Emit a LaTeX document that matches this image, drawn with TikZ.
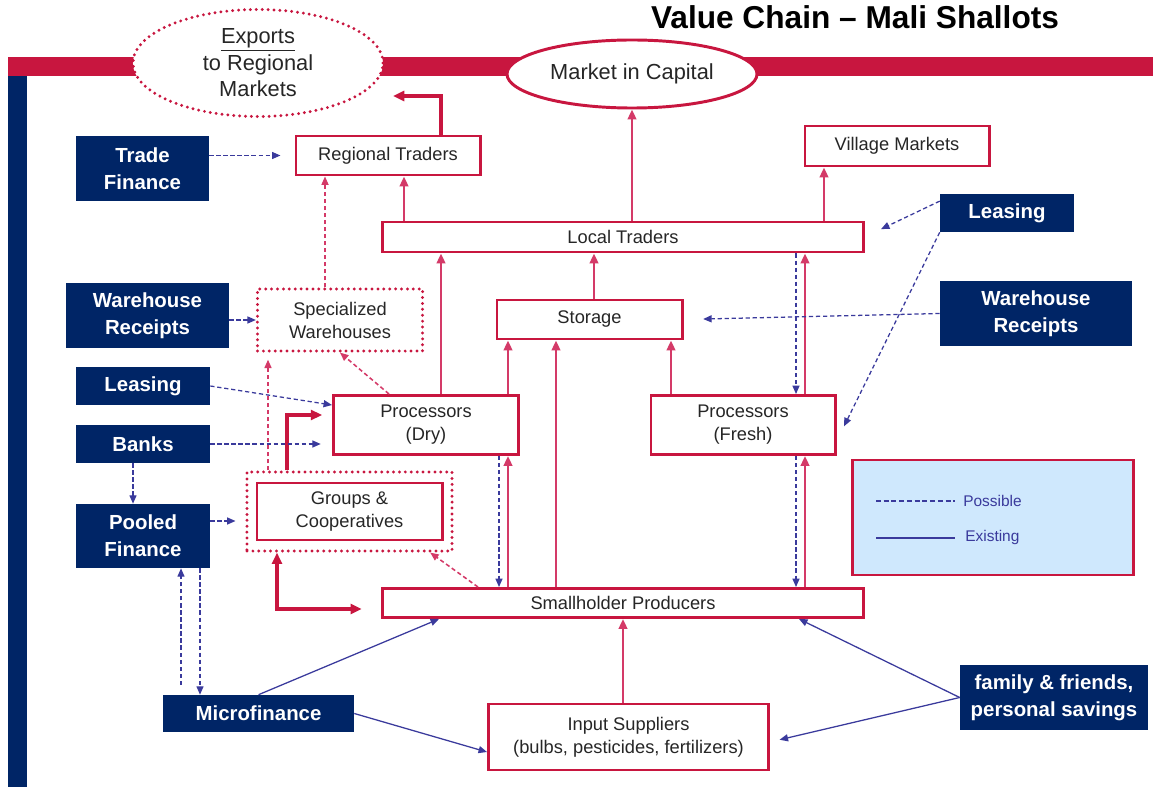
\documentclass[tikz,border=0pt]{standalone}
\usepackage{fontspec}
\setmainfont{Liberation Sans}
\usetikzlibrary{shapes.geometric,arrows.meta}
\definecolor{crim}{HTML}{C8163F}
\definecolor{rose}{HTML}{D43A68}
\definecolor{navy}{HTML}{002566}
\definecolor{ink}{HTML}{3A3A9C}
\definecolor{sky}{HTML}{CFE8FD}

\begin{document}
\begin{tikzpicture}[x=0.025cm,y=-0.025cm,
  stage/.style={draw=crim,line width=2.1pt,fill=white,text=black!85,align=center,inner sep=0pt,
    font=\fontsize{13}{16.4}\selectfont},
  dots/.style={draw=crim,line width=2.3pt,line cap=round,dash pattern=on 0pt off 4.2pt},
  money/.style={fill=navy,text=white,align=center,inner sep=0pt,font=\bfseries\fontsize{14.5}{19}\selectfont},
  flow/.style={draw=rose,line width=1.7pt,-{Triangle[length=7pt,width=6pt]}},
  bigflow/.style={draw=crim,line width=2.6pt,-{Triangle[length=8pt,width=7pt]}},
  maybe/.style={draw=rose,line width=1.1pt,dash pattern=on 3pt off 2pt,-{Triangle[length=6pt,width=5pt]}},
  poss/.style={draw=ink,line width=0.9pt,dash pattern=on 3pt off 2pt,-{Triangle[length=6pt,width=5pt]}},
  exist/.style={draw=ink,line width=0.9pt,-{Triangle[length=6pt,width=5pt]}},
  keytext/.style={text=ink,anchor=west,inner sep=0pt,font=\fontsize{11}{13}\selectfont}]

\useasboundingbox (0,0) rectangle (1153,787);
\fill[white] (0,0) rectangle (1153,787);

\fill[crim] (8,57) rectangle (1153,76);
\fill[navy] (8,76) rectangle (27,787);
\node[font=\bfseries\fontsize{22.5}{26}\selectfont] (title) at (855,17) {Value Chain \textendash{} Mali Shallots};

% the chain
\node[stage,dots,ellipse,minimum width=6.25cm,minimum height=2.675cm,font=\fontsize{15.5}{18.9}\selectfont]
  (exports) at (258,63) {\underline{Exports}\\to Regional\\Markets};
\node[stage,ellipse,minimum width=6.25cm,minimum height=1.7cm,font=\fontsize{15.5}{18.9}\selectfont]
  (capital) at (632,74) {Market in Capital};
\node[stage,minimum width=4.6cm,minimum height=0.975cm] (rt) at (388,155.5) {Regional Traders};
\node[stage,minimum width=4.6cm,minimum height=1cm] (vm) at (897,146) {Village Markets};
\node[stage,minimum width=12cm,minimum height=0.75cm] (lt) at (623,237) {Local Traders};
\node[stage,minimum width=4.625cm,minimum height=0.975cm] (storage) at (589.5,319.5) {Storage};
\node[stage,dots,minimum width=4.125cm,minimum height=1.55cm] (sw) at (340,320) {Specialized\\Warehouses};
\node[stage,minimum width=4.625cm,minimum height=1.475cm] (pdry) at (426,425) {Processors\\(Dry)};
\node[stage,minimum width=4.6cm,minimum height=1.475cm] (pfresh) at (743,425) {Processors\\(Fresh)};
\node[stage,dots,minimum width=5.125cm,minimum height=1.975cm] (grpout) at (349.5,511.5) {};
\node[stage,minimum width=4.625cm,minimum height=1.425cm] (grpin) at (349.5,511.5) {Groups \&\\Cooperatives};
\node[stage,minimum width=12cm,minimum height=0.725cm] (sp) at (623,603) {Smallholder Producers};
\node[stage,minimum width=7cm,minimum height=1.65cm] (inputs) at (628.5,737) {Input Suppliers\\(bulbs, pesticides, fertilizers)};

% finance
\node[money,minimum width=3.325cm,minimum height=1.625cm] (tf) at (142.5,168.5) {Trade\\Finance};
\node[money,minimum width=4.075cm,minimum height=1.625cm] (wrl) at (147.5,315.5) {Warehouse\\Receipts};
\node[money,minimum width=3.35cm,minimum height=0.95cm] (leasl) at (143,386) {Leasing};
\node[money,minimum width=3.35cm,minimum height=0.95cm] (banks) at (143,444) {Banks};
\node[money,minimum width=3.35cm,minimum height=1.6cm] (pooled) at (143,536) {Pooled\\Finance};
\node[money,minimum width=4.775cm,minimum height=0.925cm] (micro) at (258.5,713.5) {Microfinance};
\node[money,minimum width=4.7cm,minimum height=1.625cm] (family) at (1054,697.5) {family \& friends,\\personal savings};
\node[money,minimum width=3.35cm,minimum height=0.95cm] (leasr) at (1007,213) {Leasing};
\node[money,minimum width=4.8cm,minimum height=1.625cm] (wrr) at (1036,313.5) {Warehouse\\Receipts};

\coordinate (exptip) at (393,96);

\draw[flow] (404,0 |- lt.north) -- (404,0 |- rt.south);
\draw[flow] (capital.south |- lt.north) -- (capital.south);
\draw[flow] (824,0 |- lt.north) -- (824,0 |- vm.south);
\draw[bigflow] (441,0 |- rt.north) -- (441,96) -- (exptip);
\draw[flow] (441,0 |- pdry.north) -- (441,0 |- lt.south);
\draw[flow] (508,0 |- pdry.north) -- (508,0 |- storage.south);
\draw[flow] (594,0 |- storage.north) -- (594,0 |- lt.south);
\draw[flow] (671,0 |- pfresh.north) -- (671,0 |- storage.south);
\draw[flow] (805,0 |- pfresh.north) -- (805,0 |- lt.south);
\draw[poss] (796,0 |- lt.south) -- (796,0 |- pfresh.north);
\draw[flow] (556,0 |- sp.north) -- (556,0 |- storage.south);
\draw[flow] (508,0 |- sp.north) -- (508,0 |- pdry.south);
\draw[poss] (499,0 |- pdry.south) -- (499,0 |- sp.north);
\draw[flow] (805,0 |- sp.north) -- (805,0 |- pfresh.south);
\draw[poss] (796,0 |- pfresh.south) -- (796,0 |- sp.north);
\draw[flow] (623,0 |- inputs.north) -- (623,0 |- sp.south);

\draw[maybe] (325,0 |- sw.north) -- (325,0 |- rt.south);
\draw[maybe,shorten >=5pt] (268,0 |- grpout.north) -- (268,0 |- sw.south);
\draw[maybe] (389,0 |- pdry.north) -- (sw.south);
\draw[maybe] (478,0 |- sp.north) -- (grpout.-27);

\draw[bigflow,shorten >=7pt] (287,0 |- grpout.north) -- (287,415) -- (pdry.west |- 0,415);
\draw[bigflow,{Triangle[length=8pt,width=7pt]}-{Triangle[length=8pt,width=7pt]},shorten >=14pt]
  (277,0 |- grpout.south) -- (277,609) -- (sp.west |- 0,609);

\draw[poss,shorten >=10pt] (tf.east |- rt.west) -- (rt.west);
\draw[poss] (wrl.east |- sw.west) -- (sw.west);
\draw[poss] (leasl.east) -- (pdry.168);
\draw[poss,shorten >=8pt] (banks.east) -- (banks.east -| pdry.west);
\draw[poss] (133,0 |- banks.south) -- (133,0 |- pooled.north);
\draw[poss,shorten >=7pt] (pooled.east |- 0,521) -- (grpout.west |- 0,521);
\draw[poss,shorten <=7pt] (181,0 |- micro.north) -- (181,0 |- pooled.south);
\draw[poss] (200,0 |- pooled.south) -- (200,0 |- micro.north);
\draw[exist] (micro.north) -- (439,0 |- sp.south);
\draw[exist] (micro.east) -- (inputs.west |- 0,752);
\draw[exist] (family.west) -- (799,0 |- sp.south);
\draw[exist,shorten >=7pt] (family.west) -- (inputs.east |- 0,742);
\draw[poss,shorten >=13pt] (leasr.170) -- (lt.east);
\draw[poss,shorten >=12pt] (leasr.south west) -- (pfresh.-10);
\draw[poss,shorten >=14pt] (wrr.west) -- (storage.east);

% key
\node[draw=crim,line width=2.1pt,fill=sky,minimum width=7cm,minimum height=2.875cm] (legend) at (993,517.5) {};
\node[keytext] (possk) at (963,501) {Possible};
\node[keytext] (existk) at (965,538) {Existing};
\draw[ink,line width=0.8pt,dash pattern=on 3.5pt off 2pt] (876,0 |- possk.west) -- (955,0 |- possk.west);
\draw[ink,line width=0.8pt] (876,0 |- existk.west) -- (955,0 |- existk.west);
\end{tikzpicture}
\end{document}
